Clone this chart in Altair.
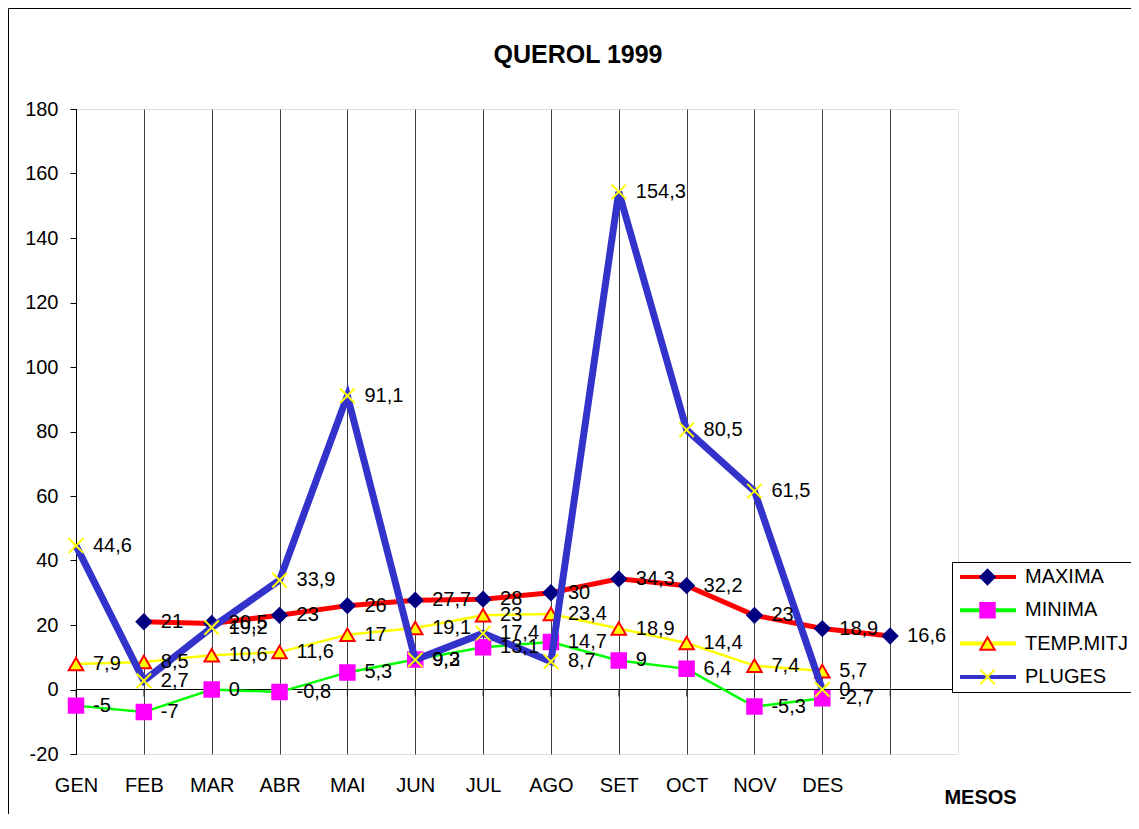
import json
import altair as alt
import pandas as pd

# ---------------- data ----------------
MONTHS = ["GEN", "FEB", "MAR", "ABR", "MAI", "JUN", "JUL", "AGO", "SET", "OCT", "NOV", "DES"]
SERIES = ["MAXIMA", "MINIMA", "TEMP.MITJ", "PLUGES"]
# MAXIMA is drawn one slot to the right in the original (FEB .. the 13th empty slot)
MAXIMA = [21, 20.5, 23, 26, 27.7, 28, 30, 34.3, 32.2, 23, 18.9, 16.6]
MINIMA = [-5, -7, 0, -0.8, 5.3, 9.3, 13.1, 14.7, 9, 6.4, -5.3, -2.7]
TEMP_MITJ = [7.9, 8.5, 10.6, 11.6, 17, 19.1, 23, 23.4, 18.9, 14.4, 7.4, 5.7]
PLUGES = [44.6, 2.7, 19.2, 33.9, 91.1, 9.2, 17.4, 8.7, 154.3, 80.5, 61.5, 0]
START = {"MAXIMA": 1, "MINIMA": 0, "TEMP.MITJ": 0, "PLUGES": 0}
Y_TICKS = list(range(-20, 181, 20))
N_SLOTS = 13  # 12 months + one empty slot, plus right border at 13

VALUES = {"MAXIMA": MAXIMA, "MINIMA": MINIMA, "TEMP.MITJ": TEMP_MITJ, "PLUGES": PLUGES}

rows = []
for name in SERIES:
    for i, v in enumerate(VALUES[name]):
        rows.append({"series": name, "idx": START[name] + i, "value": v,
                     "label": f"{v:g}".replace(".", ",")})
df = pd.DataFrame(rows)

zero_df = pd.DataFrame({"value": [0]})
tick_df = pd.DataFrame({"idx": list(range(N_SLOTS)), "value": [0] * N_SLOTS})

# ---------------- styles ----------------
FONT = "Liberation Sans"
LINE_COLORS = ["#FF0000", "#00FF00", "#FFFF00", "#3333CC", "#FFFFFF"]
LINE_WIDTHS = {"MAXIMA": 5, "MINIMA": 2.5, "TEMP.MITJ": 2.5, "PLUGES": 7}
SHAPES = ["diamond", "square", "triangle-up", "M-1,-1L1,1M1,-1L-1,1"]
FILLS = ["#000080", "#FF00FF", "#FFFF00", "#FFFF00"]
STROKES = ["#000080", "#FF00FF", "#FF0000", "#FFFF00"]

label_expr = json.dumps(MONTHS) + "[datum.value] || ''"

x_axis = alt.Axis(values=list(range(N_SLOTS)), labelExpr=label_expr, grid=True,
                  gridColor="#404040", gridWidth=1, ticks=False, tickSize=0, domain=False,
                  labelFont=FONT, labelFontSize=20, labelColor="black", labelPadding=21,
                  labelFlush=False, labelOverlap=False,
                  title="MESOS", titleFont=FONT, titleFontSize=20, titleFontWeight="bold",
                  titleColor="black", titleX=904, titleY=43, titleBaseline="middle",
                  titleAlign="center")
y_axis = alt.Axis(values=Y_TICKS, labelExpr="datum.value + ''", grid=False,
                  domainColor="black", domainWidth=1,
                  tickColor="black", tickSize=6, labelFont=FONT, labelFontSize=20,
                  labelColor="black", labelPadding=12, labelFlush=False, labelOverlap=False,
                  title=None)

X = alt.X("idx:Q", scale=alt.Scale(domain=[0, N_SLOTS], nice=False, zero=False), axis=x_axis)
Y = alt.Y("value:Q", scale=alt.Scale(domain=[-20, 180], nice=False, zero=False), axis=y_axis)

# line legend (drawn first) and marker legend (overlaid on the line symbols)
line_legend = alt.Legend(title=None, orient="none", legendX=876, legendY=453, padding=4,
                         values=SERIES,
                         symbolType="stroke", symbolSize=3136, symbolStrokeWidth=4,
                         symbolOffset=2, labelOffset=7, clipHeight=22, rowPadding=11.3,
                         labelFont=FONT, labelFontSize=20, labelColor="black",
                         strokeColor="black", fillColor="white")
mk_legend = alt.Legend(title=None, orient="none", legendX=899, legendY=453, padding=4,
                       symbolSize=210, symbolStrokeWidth=2, clipHeight=22, rowPadding=11.3,
                       labelFont=FONT, labelFontSize=1, labelOpacity=0)

# the line colour scale carries one unused extra domain value so that its legend
# stays separate from the marker legend
line_scale = alt.Scale(domain=SERIES + [" "], range=LINE_COLORS)

base = alt.Chart(df)

layers = []
# zero line and its tick marks
layers.append(alt.Chart(zero_df).mark_rule(color="black", strokeWidth=1).encode(y=Y))
layers.append(alt.Chart(tick_df).mark_tick(orient="vertical", size=7, thickness=1,
                                           color="black", yOffset=3.5).encode(x=X, y=Y))

for s in SERIES:
    sub = base.transform_filter(alt.datum.series == s)
    layers.append(sub.mark_line(strokeWidth=LINE_WIDTHS[s]).encode(
        x=X, y=Y,
        color=alt.Color("series:N", scale=line_scale, legend=line_legend)))
    layers.append(sub.mark_point(size=210, strokeWidth=2, opacity=1).encode(
        x=X, y=Y,
        shape=alt.Shape("series:N", scale=alt.Scale(domain=SERIES, range=SHAPES), legend=mk_legend),
        fill=alt.Fill("series:N", scale=alt.Scale(domain=SERIES, range=FILLS), legend=mk_legend),
        stroke=alt.Stroke("series:N", scale=alt.Scale(domain=SERIES, range=STROKES), legend=mk_legend)))

layers.append(base.mark_text(align="left", baseline="middle", dx=17, font=FONT, fontSize=20,
                             color="black").encode(x=X, y=Y, text="label:N"))

# outer chart-area border (top and left edges)
layers.append(alt.Chart(zero_df).mark_rule(color="black", strokeWidth=1).encode(
    x=alt.value(-67.5), y=alt.value(-100.5), y2=alt.value(705)))
layers.append(alt.Chart(zero_df).mark_rule(color="black", strokeWidth=1).encode(
    x=alt.value(-67.5), x2=alt.value(1055), y=alt.value(-100.5)))

chart = alt.layer(*layers).properties(
    width=882, height=645,
    title=alt.TitleParams("QUEROL 1999", font=FONT, fontSize=25, fontWeight="bold",
                          color="black", frame="group", anchor="middle", dx=61,
                          offset=-80, baseline="alphabetic"),
    autosize=alt.AutoSizeParams(type="none"),
    padding={"left": 68, "top": 101, "right": 173, "bottom": 60},
).configure_view(stroke="#808080", strokeWidth=2).configure(background="white")

chart.save("out.html", embed_options={"renderer": "svg", "actions": False})
